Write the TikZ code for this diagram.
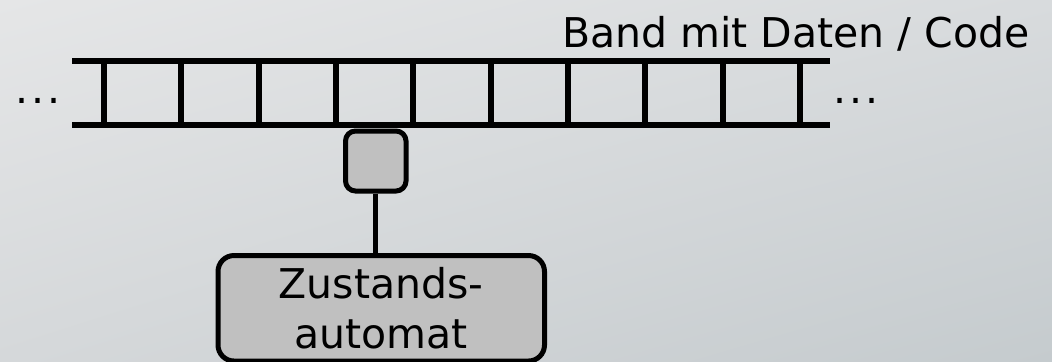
\documentclass[tikz,border=0pt]{standalone}
\usepackage{fontspec}
\setmainfont{DejaVu Sans}
\usetikzlibrary{shadings}
\definecolor{bgUL}{RGB}{229,230,231}
\definecolor{bgUR}{RGB}{216,219,221}
\definecolor{bgLL}{RGB}{213,216,218}
\definecolor{bgLR}{RGB}{197,203,206}
\definecolor{boxgray}{RGB}{192,192,192}
\begin{document}
\begin{tikzpicture}[x=0.5pt,y=-0.5pt,
  every node/.style={font=\fontsize{20.5pt}{25pt}\selectfont, text=black},
  tapeline/.style={line width=3pt},
  headbox/.style={draw, line width=2.5pt, fill=boxgray, rounded corners=5pt,
    minimum width=30.25pt, minimum height=30pt, inner sep=0pt},
  fsmbox/.style={draw, line width=2.5pt, fill=boxgray, rounded corners=8pt,
    minimum width=163.25pt, minimum height=52.75pt, inner sep=0pt, align=center},
  link/.style={line width=2.5pt},
  dots/.style={anchor=base west, inner sep=0pt},
]
% background
\shade[upper left=bgUL, upper right=bgUR, lower left=bgLL, lower right=bgLR]
  (0,0) rectangle (1052,361);
\useasboundingbox (0,0) rectangle (1052,361);

% tape
\draw[tapeline] (72,60.5) -- (830,60.5);
\draw[tapeline] (72,124.5) -- (830,124.5);
\foreach \k in {0,...,9}
  \draw[tapeline] ({104+77.33*\k},60.5) -- ({104+77.33*\k},124.5);

\node (ldots) [dots] at (15,103) {.\kern1.5pt.\kern1.5pt.};
\node (rdots) [dots] at (833.5,103) {.\kern1.5pt.\kern1.5pt.};
\node (band) [anchor=base east, inner sep=0pt] at (1030,47) {Band mit Daten / Code};

% read/write head and control unit
\node (head) [headbox] at (375.75,161) {};
\node (fsm) [fsmbox, anchor=north] at (381.25,253) {Zustands-\\automat};
\draw[link] (head.south) -- (head.south |- fsm.north);
\end{tikzpicture}
\end{document}
